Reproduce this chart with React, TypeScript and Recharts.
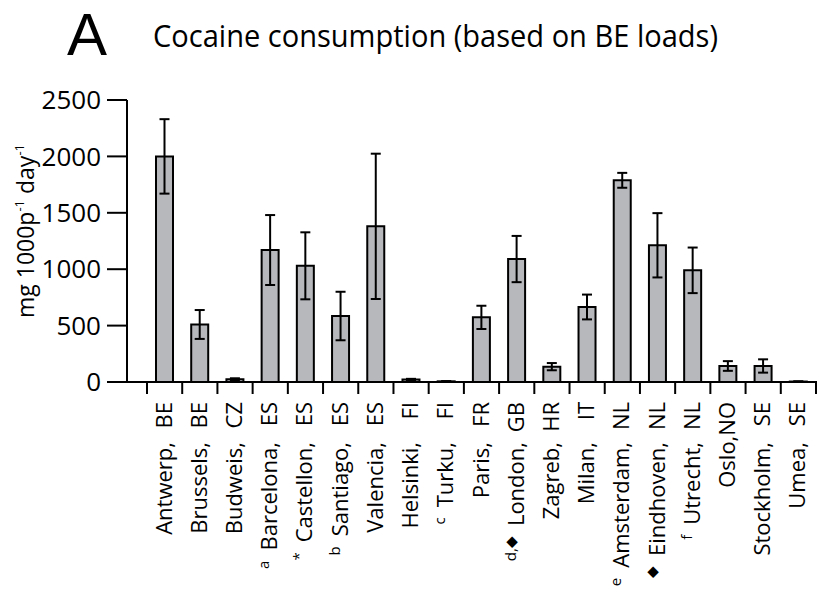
import { BarChart, Bar, XAxis, YAxis, ErrorBar } from "recharts";

const cities = [
  "Antwerp, BE",
  "Brussels, BE",
  "Budweis, CZ",
  "Barcelona, ES",
  "Castellon, ES",
  "Santiago, ES",
  "Valencia, ES",
  "Helsinki, FI",
  "Turku, FI",
  "Paris, FR",
  "London, GB",
  "Zagreb, HR",
  "Milan, IT",
  "Amsterdam, NL",
  "Eindhoven, NL",
  "Utrecht, NL",
  "Oslo,NO",
  "Stockholm, SE",
  "Umea, SE",
];
const notes = ["", "", "", "a", "*", "b", "", "", "c", "", "d,◆", "", "", "e", "◆", "f", "", "", ""];
const means = [2000, 510, 25, 1170, 1030, 585, 1380, 22, 6, 573, 1090, 136, 665, 1788, 1212, 990, 142, 142, 4];
const errors = [330, 128, 8, 310, 297, 215, 644, 6, 2, 103, 205, 32, 110, 66, 285, 202, 43, 59, 2];
const yTicks = [0, 500, 1000, 1500, 2000, 2500];

const data = cities.map((name, i) => ({ name, note: notes[i], value: means[i], err: errors[i] }));

const W = 819;
const H = 601;
const margin = { top: 100, right: 2, bottom: 0, left: 47 };
const yAxisWidth = 80;
const padL = 20;
const padR = 1;
const font = "'Open Sans', sans-serif";

const plotLeft = margin.left + yAxisWidth;
const plotRight = W - margin.right;
const band = (plotRight - padR - (plotLeft + padL)) / cities.length;

const CityTick = (props: any) => {
  const { x, y, payload, index } = props;
  const i = typeof index === "number" ? index : cities.indexOf(payload.value);
  const label: string = payload.value;
  const note = notes[i];
  const split = label.lastIndexOf(", ");
  const left = x - band / 2;
  return (
    <g>
      <line x1={left} y1={y} x2={left} y2={y + 12} stroke="#000" strokeWidth={2} />
      {i === cities.length - 1 && (
        <line x1={x + band / 2} y1={y} x2={x + band / 2} y2={y + 12} stroke="#000" strokeWidth={2} />
      )}
      <g transform={`translate(${x + 7}, ${y})`} fontFamily={font} fontSize={22} fill="#000">
        {split < 0 ? (
          <text transform="rotate(-90)" x={-20} y={0} textAnchor="end">
            {label}
          </text>
        ) : (
          <>
            <text transform="rotate(-90)" x={-20} y={0} textAnchor="end">
              {label.slice(split + 2)}
            </text>
            <text transform="rotate(-90)" x={-60} y={0} textAnchor="end">
              {note && (
                <tspan fontSize={15} dy={-8}>
                  {note}
                </tspan>
              )}
              <tspan dx={note ? 10 : 0} dy={note ? 8 : 0}>
                {label.slice(0, split + 1)}
              </tspan>
            </text>
          </>
        )}
      </g>
    </g>
  );
};

export default function App() {
  return (
    <div style={{ position: "absolute", left: 0, top: 0, width: W, height: H, background: "#fff" }}>
      <BarChart width={W} height={H} data={data} margin={margin}>
        <XAxis
          dataKey="name"
          height={H - 382}
          interval={0}
          padding={{ left: padL, right: padR }}
          tickLine={false}
          tickSize={0}
          tickMargin={0}
          axisLine={{ stroke: "#000", strokeWidth: 2 }}
          tick={<CityTick />}
        />
        <YAxis
          width={yAxisWidth}
          domain={[0, 2500]}
          ticks={yTicks}
          interval={0}
          tickSize={20}
          tickMargin={6}
          axisLine={{ stroke: "#000", strokeWidth: 2 }}
          tickLine={{ stroke: "#000", strokeWidth: 2 }}
          tick={{ fill: "#000", fontSize: 26, fontFamily: font }}
        />
        <Bar dataKey="value" fill="#b7b8bc" stroke="#000" strokeWidth={2} barSize={17} isAnimationActive={false}>
          <ErrorBar dataKey="err" direction="y" width={5} stroke="#000" strokeWidth={2} />
        </Bar>
      </BarChart>
      <svg
        width={W}
        height={H}
        style={{ position: "absolute", left: 0, top: 0, pointerEvents: "none" }}
        fontFamily={font}
        fill="#000"
      >
        <text x={67} y={55} fontSize={60} fontFamily="'Liberation Sans', Arial, sans-serif">
          A
        </text>
        <text x={153} y={47} fontSize={31} textLength={565} lengthAdjust="spacingAndGlyphs">
          Cocaine consumption (based on BE loads)
        </text>
        <text transform="translate(34, 231) rotate(-90)" textAnchor="middle" fontSize={23}>
          <tspan>mg 1000p</tspan>
          <tspan fontSize={13} dy={-10}>
            -1
          </tspan>
          <tspan dy={10}> day</tspan>
          <tspan fontSize={13} dy={-10}>
            -1
          </tspan>
        </text>
      </svg>
    </div>
  );
}
